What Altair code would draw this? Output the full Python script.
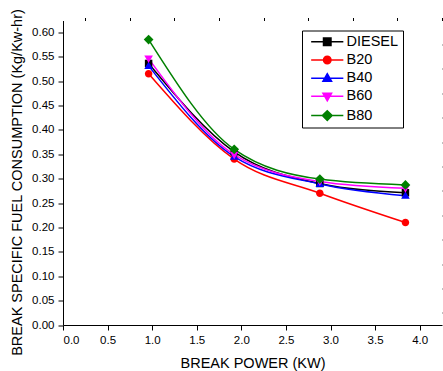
import altair as alt
import pandas as pd

# ---- data ----
x_power = [0.96, 1.92, 2.88, 3.84]
series_names = ["DIESEL", "B20", "B40", "B60", "B80"]
diesel = [0.536, 0.355, 0.290, 0.271]
b20 = [0.515, 0.340, 0.270, 0.210]
b40 = [0.531, 0.345, 0.289, 0.265]
b60 = [0.546, 0.349, 0.294, 0.280]
b80 = [0.585, 0.360, 0.299, 0.287]
series_values = [diesel, b20, b40, b60, b80]

series_colors = ["#000000", "#ff0000", "#0000ff", "#ff00ff", "#008000"]
marker_paths = [
    "M-1,-1H1V1H-1Z",
    "M1,0A1,1,0,1,1,-1,0A1,1,0,1,1,1,0Z",
    "M0,-1.2L1.15,0.8H-1.15Z",
    "M0,1.2L1.15,-0.8H-1.15Z",
    "M0,-1.3L1.3,0L0,1.3L-1.3,0Z",
]
legend_paths = ["M-4.3,0H4.3" + p for p in marker_paths]

x_ticks = [0.0, 0.5, 1.0, 1.5, 2.0, 2.5, 3.0, 3.5, 4.0]
x_minor = [0.25, 0.75, 1.25, 1.75, 2.25, 2.75, 3.25, 3.75, 4.25]
y_ticks = [0.00, 0.05, 0.10, 0.15, 0.20, 0.25, 0.30, 0.35, 0.40, 0.45, 0.50, 0.55, 0.60]
y_minor = [0.025, 0.075, 0.125, 0.175, 0.225, 0.275, 0.325, 0.375, 0.425, 0.475, 0.525, 0.575, 0.625]

rows = []
for name, vals in zip(series_names, series_values):
    for xv, yv in zip(x_power, vals):
        rows.append({"power": xv, "bsfc": yv, "fuel": name})
df = pd.DataFrame(rows)

FONT = "Liberation Sans"
xs = alt.Scale(domain=[0, 4.25], nice=False, zero=False)
ys = alt.Scale(domain=[0, 0.624], nice=False, zero=False)
color_scale = alt.Scale(domain=series_names, range=series_colors)

x_major_axis = alt.Axis(values=x_ticks, format=".1f", title="BREAK POWER (KW)",
                        titleBaseline="alphabetic", titleY=42.5, labelPadding=4)
y_major_axis = alt.Axis(values=y_ticks, format=".2f",
                        title="BREAK SPECIFIC FUEL CONSUMPTION (Kg/Kw-hr)",
                        titleBaseline="alphabetic", titleX=-41.5, titleY=161.5,
                        labelPadding=4)
x_minor_axis = alt.Axis(values=x_minor, labels=False, domain=False, tickSize=3, title="")
y_minor_axis = alt.Axis(values=y_minor, labels=False, domain=False, tickSize=3, title="")

base = alt.Chart(df)

lines = base.mark_line(interpolate="monotone", strokeWidth=1.5).encode(
    x=alt.X("power:Q", scale=xs, axis=x_major_axis),
    y=alt.Y("bsfc:Q", scale=ys, axis=y_major_axis),
    color=alt.Color("fuel:N", scale=color_scale, legend=None),
)

points = base.mark_point(filled=True, opacity=1, size=56).encode(
    x=alt.X("power:Q", scale=xs, axis=None),
    y=alt.Y("bsfc:Q", scale=ys, axis=None),
    color=alt.Color("fuel:N", scale=color_scale, legend=None),
    shape=alt.Shape("fuel:N", scale=alt.Scale(domain=series_names, range=marker_paths), legend=None),
)

minor = base.mark_point(opacity=0).encode(
    x=alt.X("power:Q", scale=xs, axis=x_minor_axis),
    y=alt.Y("bsfc:Q", scale=ys, axis=y_minor_axis),
)

leg = alt.Legend(
    orient="none", legendX=239, legendY=10, title=None,
    strokeColor="black", fillColor="white", padding=4,
    symbolSize=56, symbolStrokeWidth=1.5, symbolFillColor="black", symbolStrokeColor="black",
    symbolOffset=14, labelOffset=12, rowPadding=3.2,
    labelFont=FONT, labelFontSize=14.5, labelColor="black",
)

legend_layer = base.transform_filter("datum.power > 100").mark_point(
    filled=True, opacity=1, size=56, strokeWidth=1.5
).encode(
    x=alt.X("power:Q", scale=xs, axis=None),
    y=alt.Y("bsfc:Q", scale=ys, axis=None),
    fill=alt.Fill("fuel:N", scale=alt.Scale(domain=series_names, range=series_colors), legend=leg),
    stroke=alt.Stroke("fuel:N", scale=alt.Scale(domain=series_names, range=series_colors), legend=leg),
    shape=alt.Shape("fuel:N", scale=alt.Scale(domain=series_names, range=legend_paths), legend=leg),
)

chart = alt.layer(lines, points, minor, legend_layer).resolve_scale(
    shape="independent", fill="independent", stroke="independent"
).resolve_axis(x="independent", y="independent").properties(
    width=379, height=304.5, autosize="none",
    padding={"left": 63, "top": 20.5, "right": 1, "bottom": 46},
).configure_view(stroke="transparent").configure_axis(
    grid=False, labelFont=FONT, labelFontSize=11.5, labelColor="black",
    titleFont=FONT, titleFontSize=14.5, titleFontWeight="normal", titleColor="black",
    domainColor="black", tickColor="black", tickSize=5, domainWidth=1, tickWidth=1,
)

chart.save("out.html", embed_options={"renderer": "svg", "actions": False})
